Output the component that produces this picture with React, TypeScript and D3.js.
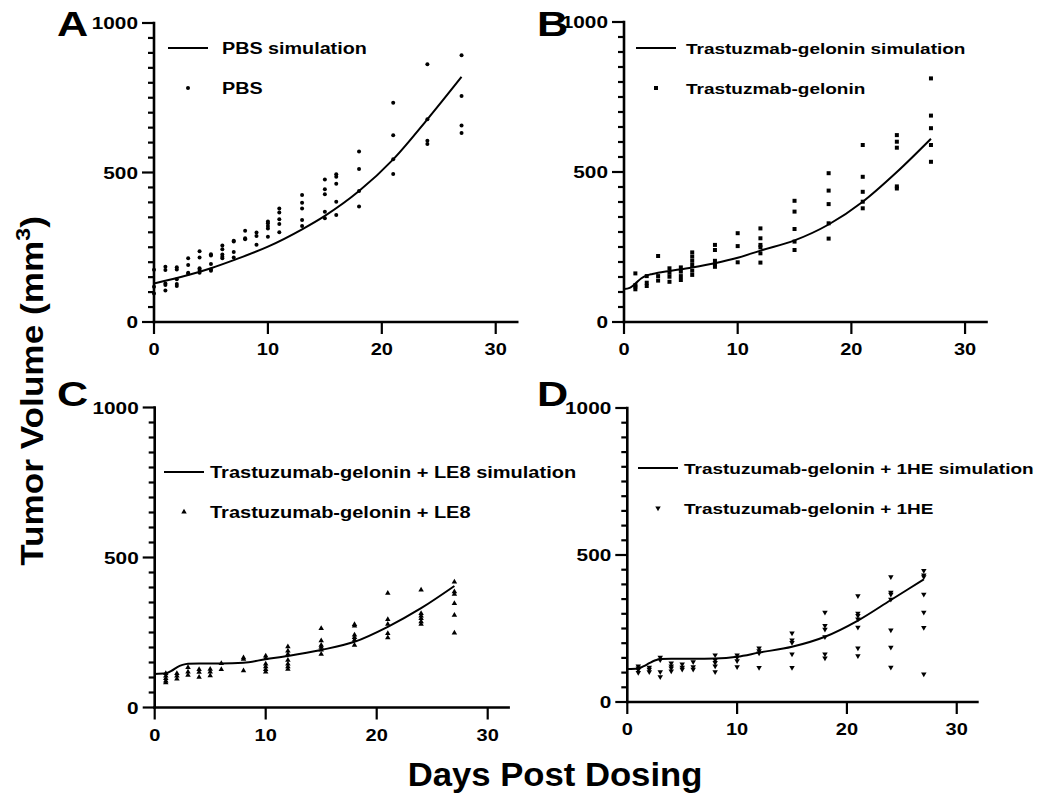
import React from "react";
import * as d3 from "d3";

// ---------- Data ----------
const daysA = [0, 1, 2, 3, 4, 5, 6, 7, 8, 9, 10, 11, 13, 15, 16, 18, 21, 24, 27];
const valsA = [
  [175, 118, 95],
  [185, 174, 129, 124, 105],
  [183, 176, 143, 127, 120],
  [213, 191, 165, 161],
  [237, 216, 180, 174, 165],
  [227, 222, 194, 176, 171],
  [256, 243, 226, 218, 213],
  [272, 269, 234, 216],
  [305, 280, 277],
  [299, 288, 258],
  [336, 330, 321, 313, 285],
  [380, 366, 344, 328, 300],
  [425, 399, 380, 341, 321],
  [477, 444, 427, 369, 347],
  [494, 486, 462, 402, 358],
  [570, 512, 438, 386],
  [733, 625, 544, 495],
  [862, 678, 606, 595],
  [892, 756, 657, 632],
];
const simDaysA = [0, 3, 5, 7, 10, 13, 15, 18, 21, 24, 27];
const simValsA = [129, 157, 180, 207, 252, 310, 355, 438, 544, 678, 820];

const daysB = [1, 2, 3, 4, 5, 6, 8, 10, 12, 15, 18, 21, 24, 27];
const valsB = [
  [162, 123, 118, 109],
  [153, 131, 120],
  [220, 153, 138],
  [179, 164, 151, 134],
  [182, 168, 153, 140],
  [232, 218, 204, 190, 171, 157],
  [257, 240, 204, 193, 184],
  [296, 253, 199],
  [312, 279, 257, 249, 229, 198],
  [404, 368, 310, 268, 240],
  [496, 438, 393, 329, 278],
  [590, 484, 434, 401, 379],
  [623, 601, 581, 452, 445],
  [812, 688, 646, 590, 534],
];
const simDaysB = [0, 0.5, 1, 1.5, 2, 2.5, 3, 4, 6, 8, 10, 12, 15, 18, 21, 24, 27];
const simValsB = [110, 114, 128, 145, 155, 160, 164, 170, 182, 196, 214, 238, 272, 325, 401, 500, 611];

const daysC = [1, 2, 3, 4, 5, 6, 8, 10, 12, 15, 18, 21, 24, 27];
const valsC = [
  [114, 105, 97, 89, 83],
  [114, 105, 95],
  [134, 119, 108],
  [127, 118, 101],
  [128, 119, 106],
  [147, 127],
  [166, 161, 123],
  [172, 164, 145, 136, 127, 119],
  [203, 189, 178, 158, 145, 136, 128],
  [264, 223, 208, 201, 192, 178],
  [277, 272, 242, 234, 225, 208],
  [381, 294, 278, 247, 233],
  [392, 314, 305, 297, 286, 278],
  [419, 386, 378, 347, 308, 249],
];
const simDaysC = [0, 1, 1.5, 2, 2.5, 3, 4, 6, 8, 10, 12, 15, 18, 21, 24, 27];
const simValsC = [112, 114, 122, 134, 142, 146, 147, 147, 149, 161, 172, 192, 219, 269, 331, 405];

const daysD = [1, 2, 3, 4, 5, 6, 8, 10, 12, 15, 18, 21, 24, 27];
const valsD = [
  [122, 115, 109, 100],
  [118, 111, 103],
  [152, 143, 103, 86],
  [132, 122, 115, 105],
  [129, 118, 111],
  [137, 120, 111],
  [160, 143, 134, 122, 103],
  [160, 152, 140, 120],
  [183, 174, 166, 117],
  [234, 211, 202, 163, 117],
  [305, 260, 247, 222, 163, 149],
  [361, 302, 294, 282, 254, 183, 157],
  [426, 373, 366, 349, 245, 186, 118],
  [447, 432, 426, 366, 305, 253, 95],
];
const simDaysD = [0, 1, 1.5, 2, 2.5, 3, 4, 6, 8, 10, 12, 15, 18, 21, 24, 27];
const simValsD = [112, 114, 122, 132, 141, 146, 147, 147, 148, 154, 168, 188, 222, 277, 347, 417];

const xTicks = [0, 10, 20, 30];
const yTicks = [0, 500, 1000];
const yMinor = d3.range(0, 1001, 50);

const legendLine = [
  "PBS simulation",
  "Trastuzmab-gelonin simulation",
  "Trastuzumab-gelonin + LE8 simulation",
  "Trastuzumab-gelonin + 1HE simulation",
];
const legendDots = ["PBS", "Trastuzmab-gelonin", "Trastuzumab-gelonin + LE8", "Trastuzumab-gelonin + 1HE"];
const panelLetters = ["A", "B", "C", "D"];

// ---------- Layout ----------
const FONT = "'Liberation Sans', Arial, Helvetica, sans-serif";
const SX = 1.3;

type Panel = {
  x0: number; x1: number; y0: number; y1: number;
  days: number[]; vals: number[][]; simD: number[]; simV: number[];
  marker: string; letterX: number; letterY: number;
  legX: number; legY: number; legTextX: number; legSize: number;
};

const panels: Panel[] = [
  { x0: 154, x1: 518.5, y0: 322, y1: 23, days: daysA, vals: valsA, simD: simDaysA, simV: simValsA, marker: "circle", letterX: 57, letterY: 36, legX: 188, legY: 48, legTextX: 222, legSize: 15.8 },
  { x0: 624, x1: 987.8, y0: 322, y1: 22, days: daysB, vals: valsB, simD: simDaysB, simV: simValsB, marker: "square", letterX: 537, letterY: 36, legX: 656, legY: 48, legTextX: 686, legSize: 15.2 },
  { x0: 154.7, x1: 509.9, y0: 707.5, y1: 407.5, days: daysC, vals: valsC, simD: simDaysC, simV: simValsC, marker: "up", letterX: 57, letterY: 406, legX: 184, legY: 472, legTextX: 210, legSize: 16 },
  { x0: 627.3, x1: 978.7, y0: 702, y1: 408, days: daysD, vals: valsD, simD: simDaysD, simV: simValsD, marker: "down", letterX: 537, letterY: 406, legX: 658, legY: 468, legTextX: 684, legSize: 15.2 },
];

function T(props: { x: number; y: number; size: number; anchor?: string; sx?: number; rotate?: number; children: React.ReactNode }) {
  const { x, y, size, anchor = "start", sx = SX, rotate = 0, children } = props;
  return (
    <text
      transform={`translate(${x},${y}) rotate(${rotate}) scale(${sx},1)`}
      textAnchor={anchor as any}
      fontSize={size}
      fontWeight="bold"
      fontFamily={FONT}
      fill="#000"
    >
      {children}
    </text>
  );
}

function Marker({ type, x, y }: { type: string; x: number; y: number }) {
  if (type === "circle") return <circle cx={x} cy={y} r={2} fill="#000" />;
  if (type === "square") return <rect x={x - 2} y={y - 2} width={4} height={4} fill="#000" />;
  const p = d3.symbol().type(d3.symbolTriangle).size(13)() as string;
  return <path d={p} transform={`translate(${x},${y}) rotate(${type === "down" ? 180 : 0})`} fill="#000" />;
}

function PanelView({ p, i }: { p: Panel; i: number }) {
  const x = d3.scaleLinear().domain([0, 32]).range([p.x0, p.x1]);
  const y = d3.scaleLinear().domain([0, 1000]).range([p.y0, p.y1]);
  const line = d3
    .line<number>()
    .x((_, k) => x(p.simD[k]))
    .y((v) => y(v))
    .curve(d3.curveMonotoneX);
  const lw = 2.6;
  return (
    <g>
      <path d={line(p.simV) || ""} fill="none" stroke="#000" strokeWidth={2} />
      {p.days.map((d, k) =>
        p.vals[k].map((v, j) => <Marker key={`${k}-${j}`} type={p.marker} x={x(d)} y={y(v)} />)
      )}
      <line x1={x(0)} x2={x(0)} y1={y(0) + lw / 2} y2={y(1000) - lw / 2} stroke="#000" strokeWidth={lw} />
      {yMinor.map((t) => (
        <line key={t} x1={x(0) - (t % 500 === 0 ? 12 : 6)} x2={x(0)} y1={y(t)} y2={y(t)} stroke="#000" strokeWidth={2.2} />
      ))}
      {yTicks.map((t) => (
        <T key={t} x={x(0) - 16} y={y(t) + 6} size={16} anchor="end">{t}</T>
      ))}
      <line x1={x(0) - lw / 2} x2={x(32)} y1={y(0)} y2={y(0)} stroke="#000" strokeWidth={lw} />
      {xTicks.map((t) => (
        <g key={t}>
          <line x1={x(t)} x2={x(t)} y1={y(0)} y2={y(0) + 12} stroke="#000" strokeWidth={2.2} />
          <T x={x(t)} y={y(0) + 33} size={16} anchor="middle" sx={1.25}>{t}</T>
        </g>
      ))}
      <T x={p.letterX} y={p.letterY} size={36} sx={1.2}>{panelLetters[i]}</T>
      <line x1={p.legX - 20} x2={p.legX + 20} y1={p.legY} y2={p.legY} stroke="#000" strokeWidth={2} />
      <T x={p.legTextX} y={p.legY + 6} size={p.legSize} sx={1.25}>{legendLine[i]}</T>
      <Marker type={p.marker} x={p.legX} y={p.legY + 40} />
      <T x={p.legTextX} y={p.legY + 46} size={p.legSize} sx={1.25}>{legendDots[i]}</T>
    </g>
  );
}

export default function App() {
  return (
    <svg width={1050} height={799} style={{ position: "absolute", left: 0, top: 0, background: "#fff" }}>
      <rect width={1050} height={799} fill="#fff" />
      {panels.map((p, i) => (
        <PanelView key={i} p={p} i={i} />
      ))}
      <T x={43} y={391} size={32} rotate={-90} anchor="middle" sx={1.1}>
        Tumor Volume (mm<tspan fontSize={21} dy={-13}>3</tspan><tspan dy={13}>)</tspan>
      </T>
      <T x={555} y={786} size={34} anchor="middle" sx={1.02}>Days Post Dosing</T>
    </svg>
  );
}
